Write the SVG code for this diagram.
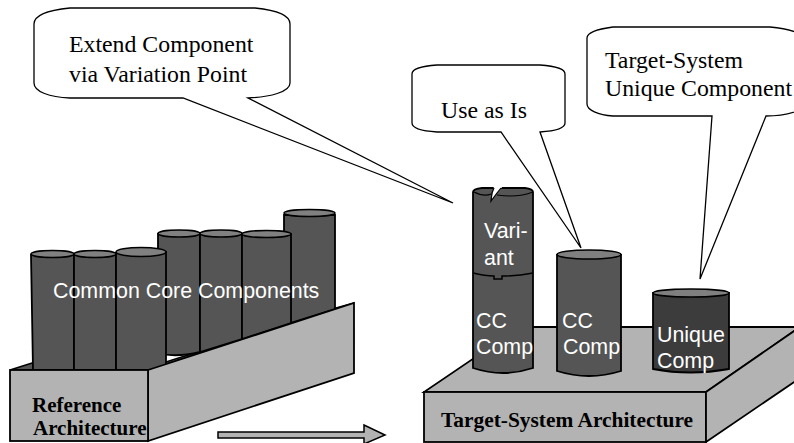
<svg xmlns="http://www.w3.org/2000/svg" width="794" height="443" viewBox="0 0 794 443">
<style>
.b{fill:#555;stroke:#000;stroke-width:1.8}
.t{fill:#808080;stroke:#000;stroke-width:1.5}
.p{fill:#b3b3b3;stroke:#000;stroke-width:1.8;stroke-linejoin:miter}
.d{fill:#555;stroke:#000;stroke-width:1.5}
.c{fill:#fff;stroke:#000;stroke-width:1.3;stroke-linejoin:miter}
.s{font-family:"Liberation Serif",serif;font-size:23.800px;fill:#000}
.r{font-family:"Liberation Serif",serif;font-size:21px;font-weight:bold;fill:#000}
.w{font-family:"Liberation Sans",sans-serif;font-size:21.400px;fill:#fff}
</style>
<g id="reference-platform-top"><polygon class="d" points="10,370 148,370 354,303 336,308 166,362 32,363"/></g>
<g id="cc-back">
<path class="b" d="M284 215V325L335 309V215Z"/><ellipse class="t" cx="309.500" cy="213" rx="25.500" ry="3.500"/>
<path class="b" d="M158 234V353Q175 358 200 352V234Z"/><ellipse class="t" cx="179" cy="233.500" rx="21" ry="3.500"/>
<path class="b" d="M200 234V352L242 339V234Z"/><ellipse class="t" cx="221" cy="233.500" rx="21" ry="3.500"/>
<path class="b" d="M242 234V339L291 323V234Z"/><ellipse class="t" cx="266.500" cy="234" rx="24.500" ry="3.500"/>
</g>
<g id="cc-front">
<path class="b" d="M31 255L33 370H74V255Z"/><ellipse class="t" cx="52.500" cy="254" rx="21.500" ry="3.500"/>
<path class="b" d="M74 255V370H116V255Z"/><ellipse class="t" cx="95" cy="254" rx="21" ry="3.500"/>
<path class="b" d="M116 253V370H166V252Z"/><ellipse class="t" cx="141" cy="252" rx="25" ry="4.500"/>
</g>
<g id="reference-platform">
<polygon class="p" points="148,370 354,303 354,373 148,441"/>
<rect class="p" x="10" y="370" width="138" height="71"/>
<text class="r" x="32" y="412">Reference</text>
<text class="r" x="33" y="435">Architecture</text>
</g>
<text class="w" x="53" y="298">Common Core Components</text>
<g id="arrow"><polygon points="218,432 364,432 364,425 385,435 364,444 364,438 218,438" fill="#b3b3b3" stroke="#000" stroke-width="1.5"/></g>
<g id="target-platform">
<polygon class="p" points="520,327 800,327 706,392 424,392"/>
<rect class="p" x="424" y="392" width="282" height="50"/>
<polygon class="p" points="706,392 800,327 800,378 706,442"/>
<text class="r" x="441" y="427" style="font-size:21.400px">Target-System Architecture</text>
</g>
<g id="variant-comp">
<path class="b" d="M473 192V368Q503 378 533 368V192Q533 189 525 188H482Q473 189 473 192Z"/>
<path d="M474 192Q484 197 491 194M533 192Q518 198 497 195" fill="none" stroke="#000" stroke-width="1.200"/>
<path d="M494 186L491 201L497 193L503 186Z" fill="#fff"/>
<path d="M494 188L492 193L491 201L497 193L501 188" fill="none" stroke="#000" stroke-width="1.200"/>
<path d="M473 273Q485 276 494 276V279H502V276Q518 276 533 273" fill="none" stroke="#000" stroke-width="1.500"/>
<text class="w" x="484" y="238">Vari-</text>
<text class="w" x="484" y="265">ant</text>
<text class="w" x="476" y="328">CC</text>
<text class="w" x="476" y="354">Comp</text>
</g>
<g id="cc-comp">
<path class="b" d="M557 255V371Q589 381 621 371V255Z"/><ellipse class="t" cx="589" cy="254.500" rx="32" ry="4.500"/>
<text class="w" x="562" y="328">CC</text>
<text class="w" x="563" y="354">Comp</text>
</g>
<g id="unique-comp">
<path d="M653 293V369Q690 376 729 369V293Z" fill="#3c3c3c" stroke="#000" stroke-width="1.800"/><ellipse class="t" cx="691" cy="293" rx="38" ry="4"/>
<text class="w" x="657" y="342">Unique</text>
<text class="w" x="657" y="368">Comp</text>
</g>
<g id="connectors">
<path id="callout-extend" class="c" d="M70 8H255C275 10 290 15 290 24V83C290 92 270 97 248 98L453 203L183 98H70C50 97 34 92 34 83V24C34 15 50 10 70 8Z"/>
<path id="callout-use" class="c" d="M437 65H540C555 66 565 69 565 74V123C565 128 555 131 540 132L581 248L501 132H437C422 131 412 128 412 123V74C412 69 422 66 437 65Z"/>
<path id="callout-unique" class="c" d="M613 27H770C782 28 792 30 800 34V110C790 114 780 116 766 116L700 279L712 116H613C598 115 587 110 587 104V38C587 32 598 29 613 27Z"/>
</g>
<g id="callout-text">
<text class="s" x="69" y="52">Extend Component</text>
<text class="s" x="69" y="82">via Variation Point</text>
<text class="s" x="441" y="118">Use as Is</text>
<text class="s" x="605" y="68">Target-System</text>
<text class="s" x="605" y="96">Unique Component</text>
</g>
</svg>
